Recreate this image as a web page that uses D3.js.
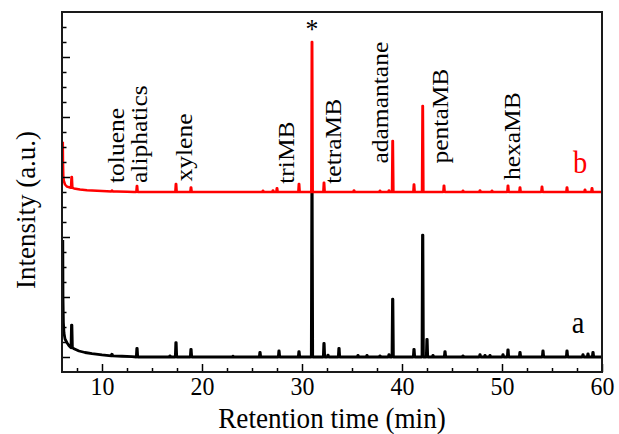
<!DOCTYPE html>
<html>
<head>
<meta charset="utf-8">
<script src="https://cdn.jsdelivr.net/npm/d3@7"></script>
<style>
  body { margin: 0; background: #fff; }
  svg { display: block; }
  text { font-family: 'Liberation Serif', 'Times New Roman', serif; }
</style>
</head>
<body>
<svg id="chart"></svg>
<script>
const width = 619
const height = 434
const margin = { top: 12, right: 17, bottom: 62, left: 62 }
const squeeze = 0.92

// x ticks (retention time, min)
const xMajor = [10, 20, 30, 40, 50, 60]
const xMinor = [7.5, 12.5, 15, 17.5, 22.5, 25, 27.5, 32.5, 35, 37.5, 42.5, 45, 47.5, 52.5, 55, 57.5]
// y ticks (arbitrary units, no labels)
const yMajor = [0, 4, 8, 12, 16, 20]
const yMinor = [1, 2, 3, 5, 6, 7, 9, 10, 11, 13, 14, 15, 17, 18, 19, 21, 22]

// sample a: baseline curve [time, intensity]
const baseA = [[6.08, 7.8], [6.1, 4.0], [6.14, 2.3], [6.2, 1.6], [6.3, 1.2], [6.5, 0.95], [6.7, 0.75],
  [7.2, 0.55], [7.7, 0.4], [8.3, 0.3], [9.0, 0.22], [10.0, 0.14], [11.0, 0.08], [12.0, 0.05],
  [13.0, 0.02], [14.0, 0], [60, 0]]
// sample a: peaks [time, foot, top]
const peaksA = [[6.97, 0.62, 2.13], [11.0, 0.08, 0.18], [13.5, 0, 0.58], [16.8, 0, 0.08], [17.4, 0, 0.96],
  [18.9, 0, 0.51], [23.1, 0, 0.06], [25.8, 0, 0.31], [27.7, 0, 0.4], [29.7, 0, 0.36], [31.0, 0, 11.05],
  [32.2, 0, 0.9], [32.6, 0, 0.12], [33.7, 0, 0.58], [35.6, 0, 0.1], [36.5, 0, 0.1], [37.8, 0, 0.08],
  [38.7, 0, 0.15], [39.07, 0, 3.85], [41.2, 0, 0.51], [42.07, 0, 8.13], [42.5, 0, 1.18], [43.1, 0, 0.1],
  [44.3, 0, 0.35], [46.1, 0, 0.08], [47.8, 0, 0.15], [48.3, 0, 0.1], [48.8, 0, 0.1], [50.1, 0, 0.15],
  [50.6, 0, 0.47], [51.8, 0, 0.3], [54.1, 0, 0.4], [56.5, 0, 0.4], [58.1, 0, 0.15], [58.6, 0, 0.2],
  [59.1, 0, 0.3]]

// sample b (drawn shifted up by offsetB)
const offsetB = 11
const baseB = [[6.08, 3.35], [6.1, 2.0], [6.13, 1.1], [6.18, 0.75], [6.3, 0.5], [6.5, 0.36], [6.8, 0.3],
  [7.2, 0.24], [7.8, 0.16], [8.5, 0.12], [9.5, 0.08], [10.5, 0.05], [11.5, 0.03], [12.5, 0.01],
  [13.2, 0], [60, 0]]
const peaksB = [[6.97, 0.28, 1.0], [11.0, 0.04, 0.1], [13.5, 0, 0.4], [17.4, 0, 0.53], [18.9, 0, 0.3],
  [26.1, 0, 0.08], [27.1, 0, 0.1], [27.5, 0, 0.25], [29.7, 0, 0.53], [31.0, 0, 10.0], [32.2, 0, 0.62],
  [35.2, 0, 0.1], [37.8, 0, 0.08], [38.7, 0, 0.1], [39.07, 0, 3.4], [41.2, 0, 0.5], [42.07, 0, 5.73],
  [44.2, 0, 0.42], [46.1, 0, 0.08], [47.8, 0, 0.1], [49.0, 0, 0.08], [50.6, 0, 0.42], [51.8, 0, 0.3],
  [54.0, 0, 0.35], [56.5, 0, 0.3], [58.3, 0, 0.15], [59.0, 0, 0.25]]

// peak labels [text, time, intensity] (rotated, anchored at start)
const peakLabels = [['toluene', 12.2, 11.6], ['aliphatics', 14.5, 11.6], ['xylene', 19.0, 11.7],
  ['triMB', 29.2, 11.55], ['tetraMB', 33.9, 11.55], ['adamantane', 38.6, 12.9],
  ['pentaMB', 44.6, 12.9], ['hexaMB', 51.8, 11.8]]

const xScale = d3.scaleLinear().domain([6, 60]).range([margin.left, width - margin.right])
const yScale = d3.scaleLinear().domain([-1, 23]).range([height - margin.bottom, margin.top])

// merge a baseline with its spikes into one trace
function trace(base, peaks, offset) {
  const pts = base.slice()
  peaks.forEach(([t, foot, top]) => {
    pts.push([t - 0.07, foot], [t - 0.02, top], [t + 0.02, top], [t + 0.07, foot])
  })
  pts.sort((a, b) => a[0] - b[0])
  return pts.map(([t, v]) => [t, v + offset])
}

const svg = d3.select('#chart')
  .attr('width', width)
  .attr('height', height)

const line = d3.line()
  .x(d => xScale(d[0]))
  .y(d => yScale(d[1]))

// traces
svg.append('path')
  .datum(trace(baseA, peaksA, 0))
  .attr('d', line)
  .style('fill', 'none')
  .style('stroke', '#000')
  .style('stroke-width', 2.8)
  .style('stroke-linejoin', 'round')

svg.append('path')
  .datum(trace(baseB, peaksB, offsetB))
  .attr('d', line)
  .style('fill', 'none')
  .style('stroke', '#ff0000')
  .style('stroke-width', 2.5)
  .style('stroke-linejoin', 'round')

// x axis (ticks pointing in)
const xAxis = svg.append('g')
  .attr('transform', `translate(0, ${height - margin.bottom})`)
xAxis.append('g')
  .call(d3.axisBottom(xScale).tickValues(xMajor).tickSize(-8).tickPadding(5).tickFormat(d3.format('d')))
xAxis.append('g')
  .call(d3.axisBottom(xScale).tickValues(xMinor).tickSize(-4).tickFormat(''))
xAxis.selectAll('.domain').remove()
xAxis.selectAll('line').style('stroke', '#000').style('stroke-width', 1.5)
xAxis.selectAll('text')
  .attr('transform', `scale(${squeeze}, 1)`)
  .style('font-family', "'Liberation Serif', serif")
  .style('font-size', '26px')
  .style('fill', '#000')

// y axis (ticks pointing in, no labels)
const yAxis = svg.append('g')
  .attr('transform', `translate(${margin.left}, 0)`)
yAxis.append('g')
  .call(d3.axisLeft(yScale).tickValues(yMajor).tickSize(-8).tickFormat(''))
yAxis.append('g')
  .call(d3.axisLeft(yScale).tickValues(yMinor).tickSize(-4.5).tickFormat(''))
yAxis.selectAll('.domain').remove()
yAxis.selectAll('line').style('stroke', '#000').style('stroke-width', 1.5)

// frame
svg.append('rect')
  .attr('x', margin.left)
  .attr('y', margin.top)
  .attr('width', width - margin.left - margin.right)
  .attr('height', height - margin.top - margin.bottom)
  .style('fill', 'none')
  .style('stroke', '#1a1a1a')
  .style('stroke-width', 2)

// axis titles
svg.append('text')
  .text('Retention time (min)')
  .attr('transform', `translate(${(margin.left + width - margin.right) / 2}, 428) scale(${squeeze}, 1)`)
  .style('text-anchor', 'middle')
  .style('font-size', '29.5px')

svg.append('text')
  .text('Intensity (a.u.)')
  .attr('transform', `translate(35, ${(margin.top + height - margin.bottom) / 2 + 18}) rotate(-90)`)
  .style('text-anchor', 'middle')
  .style('font-size', '27px')

// peak labels
svg.selectAll('.peak-label')
  .data(peakLabels)
  .enter()
  .append('text')
  .attr('class', 'peak-label')
  .text(d => d[0])
  .attr('transform', d => `translate(${xScale(d[1])}, ${yScale(d[2])}) scale(0.9, 1) rotate(-90)`)
  .style('font-size', '25.5px')

// star over the main peak
svg.append('text')
  .text('*')
  .attr('transform', `translate(${xScale(31.0)}, ${yScale(21.3)}) scale(${squeeze}, 1)`)
  .style('text-anchor', 'middle')
  .style('font-size', '28px')

// sample tags
svg.append('text')
  .text('b')
  .attr('transform', `translate(${xScale(57.8)}, ${yScale(12.25)}) scale(${squeeze}, 1)`)
  .style('text-anchor', 'middle')
  .style('font-size', '31px')
  .style('fill', '#ff0000')

svg.append('text')
  .text('a')
  .attr('transform', `translate(${xScale(57.6)}, ${yScale(1.6)}) scale(${squeeze}, 1)`)
  .style('text-anchor', 'middle')
  .style('font-size', '31px')
</script>
</body>
</html>
